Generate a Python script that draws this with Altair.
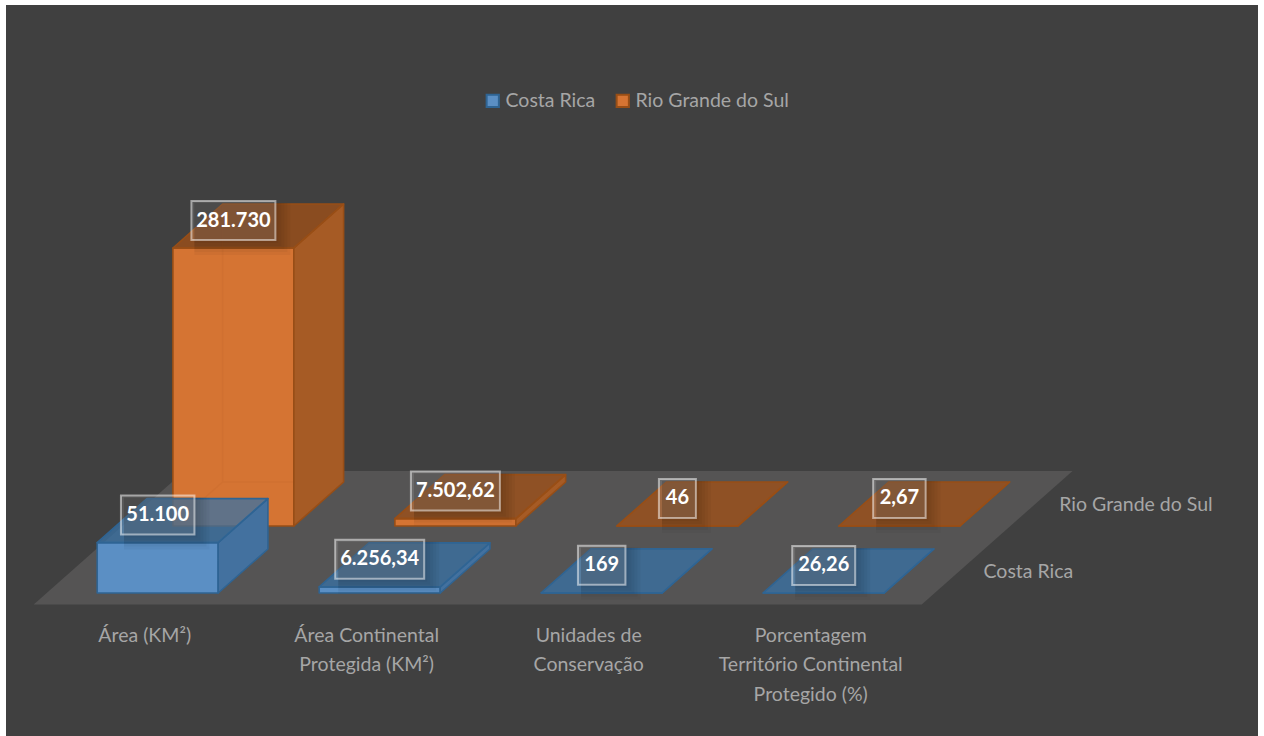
import altair as alt
import pandas as pd

# Chart values
categories = [
    ["Área (KM²)"],
    ["Área Continental", "Protegida (KM²)"],
    ["Unidades de", "Conservação"],
    ["Porcentagem", "Território Continental", "Protegido (%)"],
]
series_names = ["Costa Rica", "Rio Grande do Sul"]
costa_rica = [51100, 6256.34, 169, 26.26]
rio_grande = [281730, 7502.62, 46, 2.67]
costa_labels = ["51.100", "6.256,34", "169", "26,26"]
rio_labels = ["281.730", "7.502,62", "46", "2,67"]

# Oblique projection: one category is 222 px wide, one value unit is K px tall
W, H = 1264, 736
CAT_PX = 222.0
K = 278.0 / 281730
X0, Y0 = 157.7, 593.0
SHEAR_X = 75.7 / CAT_PX      # horizontal shift per series row, in categories
RISE_V = 67.0 / K            # vertical shift per series row, in value units
BAR_W = 0.545                # bar width in categories
BAR_D = 44.0 / 67.0          # bar depth in series rows

FRONT = {"Costa Rica": "#5B8FC4", "Rio Grande do Sul": "#D57433"}
EDGE = {"Costa Rica": "#2F6493", "Rio Grande do Sul": "#984E16"}
SIDE = {"Costa Rica": "#43719F", "Rio Grande do Sul": "#A65B25"}
TOP = {"Costa Rica": "#3871A5", "Rio Grande do Sul": "#A35015"}
TEXT = "#A6A6A6"
FONT = "Lato"
TEXT_SIZE = 19.5
EDGE_W = 1.6

x_scale = alt.Scale(domain=[-X0 / CAT_PX, (W - X0) / CAT_PX], range=[0, W], nice=False, zero=False)
y_scale = alt.Scale(domain=[(Y0 - H) / K, Y0 / K], range=[H, 0], nice=False, zero=False)


def px(c, d):
    return c + d * SHEAR_X


def py(v, d):
    return v + d * RISE_V


def enc_xy(**extra):
    return dict(
        x=alt.X("x:Q", scale=x_scale, axis=None),
        y=alt.Y("y:Q", scale=y_scale, axis=None, stack=None),
        **extra,
    )


def area_layer(rows, fill, stroke=None, opacity=1.0):
    kw = {"stroke": stroke, "strokeWidth": EDGE_W, "strokeJoin": "round"} if stroke else {}
    return (
        alt.Chart(pd.DataFrame(rows))
        .mark_area(fill=fill, fillOpacity=opacity, clip=False, **kw)
        .encode(**enc_xy(y2="y2:Q", detail="key:N"))
    )


def bar_faces(name, values, row):
    front, side, top, hidden = [], [], [], []
    for i, v in enumerate(values):
        c0, c1 = i - BAR_W / 2, i + BAR_W / 2
        d0, d1 = row, row + BAR_D
        key = f"{name}-{i}"
        for c in (c0, c1):
            front.append({"key": key, "series": name, "x": px(c, d0), "y": py(0, d0), "y2": py(v, d0)})
        for d in (d0, d1):
            side.append({"key": key, "x": px(c1, d), "y": py(0, d), "y2": py(v, d)})
        top += [
            {"key": key, "x": px(c0, d0), "y": py(v, d0), "y2": py(v, d0)},
            {"key": key, "x": px(c0, d1), "y": py(v, d0), "y2": py(v, d1)},
            {"key": key, "x": px(c1, d0), "y": py(v, d0), "y2": py(v, d1)},
            {"key": key, "x": px(c1, d1), "y": py(v, d1), "y2": py(v, d1)},
        ]
        # edges seen through the translucent faces of a raised bar
        if v > 100000:
            for n, (c, d, val) in enumerate(
                [(c0, d0, 0), (c0, d1, 0), (c0, d1, v), (c0, d1, 0), (c1, d1, 0)]
            ):
                hidden.append({"key": key, "n": n, "x": px(c, d), "y": py(val, d)})
    return front, side, top, hidden


def bar_layers(name, values, row):
    front, side, top, hidden = bar_faces(name, values, row)
    fill_scale = alt.Scale(domain=series_names, range=[FRONT[s] for s in series_names])
    stroke_scale = alt.Scale(domain=series_names, range=[EDGE[s] for s in series_names])
    legend = alt.Legend(
        title=None, orient="none", legendX=483, legendY=91, direction="horizontal",
        symbolType="square", symbolSize=150, symbolStrokeWidth=2, symbolOpacity=1,
        labelFont=FONT, labelFontSize=TEXT_SIZE, labelColor=TEXT, labelOffset=3,
        columnPadding=16, symbolFillColor=None,
    )
    front_layer = (
        alt.Chart(pd.DataFrame(front))
        .mark_area(strokeWidth=EDGE_W, strokeJoin="round", fillOpacity=1)
        .encode(**enc_xy(
            y2="y2:Q", detail="key:N",
            fill=alt.Fill("series:N", scale=fill_scale, legend=legend),
            stroke=alt.Stroke("series:N", scale=stroke_scale, legend=legend),
        ))
    )
    layers = [front_layer]
    if hidden:
        layers.append(
            alt.Chart(pd.DataFrame(hidden))
            .mark_line(color=EDGE[name], strokeWidth=1.5, opacity=0.08)
            .encode(**enc_xy(detail="key:N", order="n:Q"))
        )
    layers += [
        area_layer(side, SIDE[name], EDGE[name]),
        area_layer(top, TOP[name], EDGE[name], 0.75),
    ]
    return layers


def label_layers(values, labels, row):
    shadows, boxes, texts = [], [], []
    for i, (v, s) in enumerate(zip(values, labels)):
        digits = sum(ch.isdigit() for ch in s)
        w = (digits * 10.5 + (len(s) - digits) * 5 + 16) / CAT_PX
        h = 39.0 / K
        cx = px(i, row)
        cy = py(v, row) + 27.5 / K
        for n, grow in enumerate((0, 3, 6, 9, 12, 15)):
            g, gv = grow / CAT_PX, grow / K
            shadows.append({
                "x": cx - w / 2 + 3 / CAT_PX, "x2": cx + w / 2 + g,
                "y": cy - h / 2 - gv, "y2": cy + h / 2 - 2 / K,
            })
        boxes.append({"x": cx - w / 2, "x2": cx + w / 2, "y": cy - h / 2, "y2": cy + h / 2})
        texts.append({"x": cx, "y": cy, "text": s})
    rect = lambda d, **mk: alt.Chart(pd.DataFrame(d)).mark_rect(**mk).encode(
        **enc_xy(x2="x2:Q", y2="y2:Q")
    )
    return [
        rect(shadows, fill="#000000", opacity=0.035),
        rect(boxes, fill="#FFFFFF", fillOpacity=0.13, stroke="#FFFFFF", strokeOpacity=0.5, strokeWidth=2),
        alt.Chart(pd.DataFrame(texts))
        .mark_text(font=FONT, fontSize=20, fontWeight="bold", color="#FFFFFF", align="center", baseline="middle")
        .encode(**enc_xy(text="text:N")),
    ]


# Panel background and floor
panel = alt.Chart(pd.DataFrame([{
    "x": -(X0 - 6) / CAT_PX, "x2": (1258 - X0) / CAT_PX,
    "y": (Y0 - H) / K, "y2": (Y0 - 5) / K,
}])).mark_rect(fill="#404040").encode(**enc_xy(x2="x2:Q", y2="y2:Q"))

d_front, d_back = -11.5 / 67, 122.0 / 67
c_left, c_right = -0.5, 3.5
floor_rows = [
    {"key": "floor", "x": px(c_left, d_front), "y": py(0, d_front), "y2": py(0, d_front)},
    {"key": "floor", "x": px(c_left, d_back), "y": py(0, d_front), "y2": py(0, d_back)},
    {"key": "floor", "x": px(c_right, d_front), "y": py(0, d_front), "y2": py(0, d_back)},
    {"key": "floor", "x": px(c_right, d_back), "y": py(0, d_back), "y2": py(0, d_back)},
]
floor = area_layer(floor_rows, "#555454")

# Category labels under the floor, one row per text line
cat_rows = []
for i, lines in enumerate(categories):
    for n, line in enumerate(lines):
        cat_rows.append({
            "x": i - 13 / CAT_PX,
            "y": (Y0 - (636 + n * 29.3)) / K,
            "text": line,
        })
cat_text = (
    alt.Chart(pd.DataFrame(cat_rows))
    .mark_text(font=FONT, fontSize=TEXT_SIZE, color=TEXT, align="center", baseline="middle")
    .encode(**enc_xy(text="text:N"))
)

# Depth-axis labels beside the floor
row_rows = [
    {"x": px(3.72, r), "y": py(0, r + 0.313), "text": s}
    for r, s in enumerate(series_names)
]
row_text = (
    alt.Chart(pd.DataFrame(row_rows))
    .mark_text(font=FONT, fontSize=TEXT_SIZE, color=TEXT, align="left", baseline="middle")
    .encode(**enc_xy(text="text:N"))
)

layers = [panel, floor, cat_text, row_text]
layers += bar_layers("Rio Grande do Sul", rio_grande, 1)
layers += bar_layers("Costa Rica", costa_rica, 0)
layers += label_layers(rio_grande, rio_labels, 1)
layers += label_layers(costa_rica, costa_labels, 0)

chart = (
    alt.layer(*layers)
    .properties(width=W, height=H, padding=0, background="#FFFFFF", autosize=alt.AutoSizeParams(type="none"))
    .configure_view(stroke=None)
)

chart.save("out.html", embed_options={"renderer": "svg", "actions": False})
